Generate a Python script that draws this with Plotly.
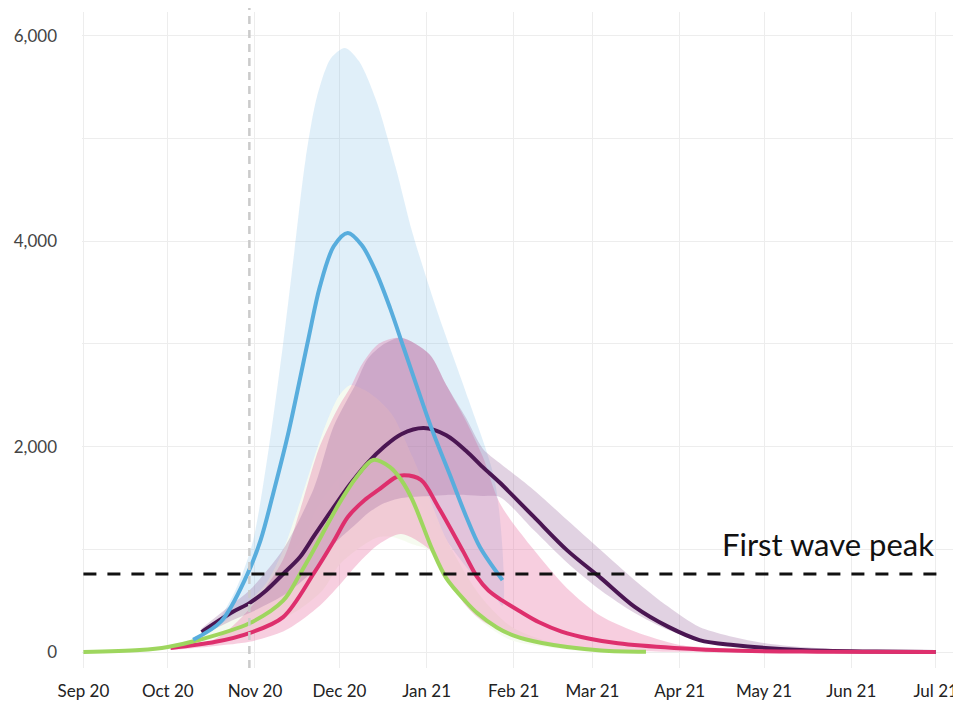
import plotly.graph_objects as go
import pandas as pd

# ---------------- data ----------------
y_tick_vals = [0, 1000, 2000, 3000, 4000, 5000, 6000]
y_tick_text = ["0", "", "2,000", "", "4,000", "", "6,000"]
x_tick_vals = ["2020-09-01", "2020-10-01", "2020-11-01", "2020-12-01", "2021-01-01", "2021-02-01",
               "2021-03-01", "2021-04-01", "2021-05-01", "2021-06-01", "2021-07-01"]
x_tick_text = ["Sep 20", "Oct 20", "Nov 20", "Dec 20", "Jan 21", "Feb 21",
               "Mar 21", "Apr 21", "May 21", "Jun 21", "Jul 21"]

first_wave_peak = 760
first_wave_label = "First wave peak"
lockdown_date = "2020-10-30"

# blue scenario
blue_dates = ["2020-10-10", "2020-10-20", "2020-10-29", "2020-11-03", "2020-11-08", "2020-11-13",
              "2020-11-20", "2020-11-24", "2020-11-29", "2020-12-04", "2020-12-09", "2020-12-14",
              "2020-12-19", "2020-12-24", "2020-12-29", "2021-01-03", "2021-01-10", "2021-01-15",
              "2021-01-20", "2021-01-28"]
blue_vals = [120, 300, 740, 1090, 1600, 2150, 3050, 3550, 3950, 4080, 3960, 3700,
             3350, 2950, 2550, 2160, 1675, 1325, 1020, 700]
blue_band_dates = ["2020-10-09", "2020-10-18", "2020-10-25", "2020-10-31", "2020-11-06", "2020-11-11",
                   "2020-11-15", "2020-11-19", "2020-11-23", "2020-11-28", "2020-12-03", "2020-12-08",
                   "2020-12-14", "2020-12-21", "2020-12-27", "2021-01-05", "2021-01-16", "2021-01-25",
                   "2021-01-28"]
blue_upper = [100, 280, 600, 1050, 2000, 3000, 3900, 4800, 5400, 5780, 5880, 5750,
              5375, 4720, 4080, 3300, 2450, 1700, 1000]
blue_lower = [60, 150, 280, 400, 600, 800, 1000, 1150, 1400, 1600, 1750, 1850,
              1850, 1750, 1550, 1200, 800, 550, 450]

# green scenario
green_dates = ["2020-09-01", "2020-09-21", "2020-10-01", "2020-10-12", "2020-10-30", "2020-11-11",
               "2020-11-17", "2020-11-22", "2020-12-01", "2020-12-07", "2020-12-13", "2020-12-19",
               "2020-12-23", "2020-12-27", "2021-01-03", "2021-01-08", "2021-01-15", "2021-01-19",
               "2021-01-26", "2021-02-01", "2021-02-11", "2021-03-04", "2021-03-20"]
green_vals = [0, 20, 50, 117, 280, 500, 760, 1000, 1450, 1700, 1870, 1800,
              1675, 1480, 1000, 720, 490, 380, 240, 160, 88, 15, 3]
green_band_dates = ["2020-10-01", "2020-10-15", "2020-10-30", "2020-11-05", "2020-11-11", "2020-11-17",
                    "2020-11-25", "2020-12-01", "2020-12-05", "2020-12-10", "2020-12-15", "2020-12-20",
                    "2020-12-27", "2021-01-02", "2021-01-08", "2021-01-20", "2021-01-31", "2021-02-15",
                    "2021-03-05"]
green_upper = [60, 180, 500, 670, 990, 1460, 2130, 2500, 2600, 2550, 2450, 2300,
               1900, 1500, 1100, 550, 250, 90, 20]
green_lower = [40, 100, 180, 250, 330, 420, 600, 850, 950, 1050, 1120, 1120,
               1050, 990, 700, 310, 117, 40, 5]

# pink scenario
pink_dates = ["2020-10-02", "2020-10-18", "2020-10-30", "2020-11-11", "2020-11-22", "2020-11-29",
              "2020-12-04", "2020-12-10", "2020-12-15", "2020-12-21", "2020-12-24", "2020-12-30",
              "2021-01-05", "2021-01-14", "2021-01-19", "2021-01-23", "2021-01-28", "2021-02-03",
              "2021-02-10", "2021-02-18", "2021-02-28", "2021-03-10", "2021-03-30", "2021-04-23",
              "2021-05-20", "2021-07-01"]
pink_vals = [40, 100, 185, 340, 770, 1080, 1315, 1480, 1580, 1700, 1720, 1675,
             1420, 980, 730, 600, 500, 400, 290, 200, 130, 85, 40, 12, 4, 0]
pink_band_dates = ["2020-10-02", "2020-10-18", "2020-10-30", "2020-11-11", "2020-11-17", "2020-11-24",
                   "2020-12-01", "2020-12-05", "2020-12-09", "2020-12-15", "2020-12-23", "2021-01-02",
                   "2021-01-08", "2021-01-15", "2021-01-21", "2021-01-27", "2021-02-08", "2021-02-20",
                   "2021-03-04", "2021-03-16", "2021-04-01", "2021-05-01"]
pink_upper = [45, 130, 420, 900, 1380, 2000, 2400, 2580, 2800, 3000, 3060, 2900,
              2600, 2250, 1900, 1450, 1000, 620, 350, 200, 70, 10]
pink_lower = [20, 60, 100, 200, 300, 450, 650, 780, 900, 1050, 1150, 1000,
              750, 450, 300, 220, 120, 60, 20, 8, 2, 0]

# purple scenario
purple_dates = ["2020-10-13", "2020-10-24", "2020-10-30", "2020-11-05", "2020-11-11", "2020-11-17",
                "2020-11-22", "2020-11-29", "2020-12-05", "2020-12-11", "2020-12-17", "2020-12-23",
                "2020-12-31", "2021-01-08", "2021-01-15", "2021-01-21", "2021-01-27", "2021-02-08",
                "2021-02-20", "2021-03-04", "2021-03-16", "2021-03-28", "2021-04-08", "2021-04-20",
                "2021-05-14", "2021-06-10", "2021-07-01"]
purple_vals = [195, 390, 477, 600, 760, 925, 1130, 1410, 1640, 1840, 2000, 2120,
               2180, 2110, 1960, 1800, 1650, 1320, 990, 720, 440, 245, 117, 68, 20, 5, 0]
purple_band_dates = ["2020-10-13", "2020-10-24", "2020-10-30", "2020-11-11", "2020-11-22", "2020-11-29",
                     "2020-12-07", "2020-12-11", "2020-12-17", "2020-12-23", "2021-01-02", "2021-01-08",
                     "2021-01-15", "2021-01-21", "2021-01-27", "2021-02-08", "2021-02-20", "2021-03-04",
                     "2021-03-16", "2021-03-28", "2021-04-08", "2021-05-01", "2021-06-01", "2021-07-01"]
purple_upper = [230, 470, 600, 1000, 1600, 2200, 2620, 2850, 3000, 3060, 2900, 2600,
                2280, 1980, 1840, 1580, 1285, 990, 700, 440, 245, 88, 20, 0]
purple_lower = [160, 310, 380, 550, 800, 1050, 1250, 1350, 1450, 1500, 1520, 1530,
                1530, 1520, 1510, 1190, 870, 600, 380, 214, 117, 40, 5, 0]

# ---------------- figure ----------------
FONT = "Lato, 'Open Sans', sans-serif"
fig = go.Figure()


def band(dates, upper, lower, color):
    d = list(pd.to_datetime(dates))
    fig.add_trace(go.Scatter(
        x=d + d[::-1], y=list(upper) + list(lower)[::-1],
        fill="toself", fillcolor=color,
        line=dict(width=0, shape="spline", smoothing=0.8),
        mode="lines", hoverinfo="skip", showlegend=False))


def line(dates, vals, color):
    fig.add_trace(go.Scatter(
        x=pd.to_datetime(dates), y=vals, mode="lines",
        line=dict(color=color, width=4, shape="spline", smoothing=0.9),
        showlegend=False))


band(blue_band_dates, blue_upper, blue_lower, "rgba(125,188,232,0.24)")
band(green_band_dates, green_upper, green_lower, "rgba(245,251,239,0.94)")
band(pink_band_dates, pink_upper, pink_lower, "rgba(232,110,162,0.34)")
band(purple_band_dates, purple_upper, purple_lower, "rgba(155,105,158,0.30)")

line(purple_dates, purple_vals, "#4A1652")
line(pink_dates, pink_vals, "#DE2F6D")
line(green_dates, green_vals, "#9ED65E")
line(blue_dates, blue_vals, "#58ADDD")

# first wave peak reference
fig.add_trace(go.Scatter(
    x=pd.to_datetime(["2020-09-01", "2021-07-03"]), y=[first_wave_peak, first_wave_peak],
    mode="lines", line=dict(color="#111111", width=3.2, dash="13px,11px"),
    hoverinfo="skip", showlegend=False))

fig.add_shape(type="line", xref="x", yref="paper",
              x0=lockdown_date, x1=lockdown_date, y0=0.0, y1=1.02,
              line=dict(color="#CBCBCB", width=2.5, dash="8px,6px"))

fig.add_annotation(x="2021-07-01", y=first_wave_peak, xref="x", yref="y",
                   text=first_wave_label, showarrow=False,
                   xanchor="right", yanchor="bottom", yshift=9,
                   font=dict(family=FONT, size=31, color="#111111"))

fig.update_layout(
    width=953, height=693,
    margin=dict(l=74, r=0, t=4, b=33),
    paper_bgcolor="white", plot_bgcolor="white",
    font=dict(family=FONT, color="#333333"),
    xaxis=dict(type="date", range=["2020-08-31 12:00", "2021-07-10"],
               tickvals=x_tick_vals, ticktext=x_tick_text,
               showgrid=True, gridcolor="#EDEDED", gridwidth=1,
               zeroline=False, showline=False, ticks="",
               tickfont=dict(family=FONT, size=17, color="#222222"),
               ticklabelstandoff=11),
    yaxis=dict(range=[-155, 6230], tickvals=y_tick_vals, ticktext=y_tick_text,
               showgrid=True, gridcolor="#EDEDED", gridwidth=1,
               zeroline=False, showline=False, ticks="",
               tickfont=dict(family=FONT, size=17, color="#444444"),
               ticklabelstandoff=24),
)

fig.write_html("out.html")
